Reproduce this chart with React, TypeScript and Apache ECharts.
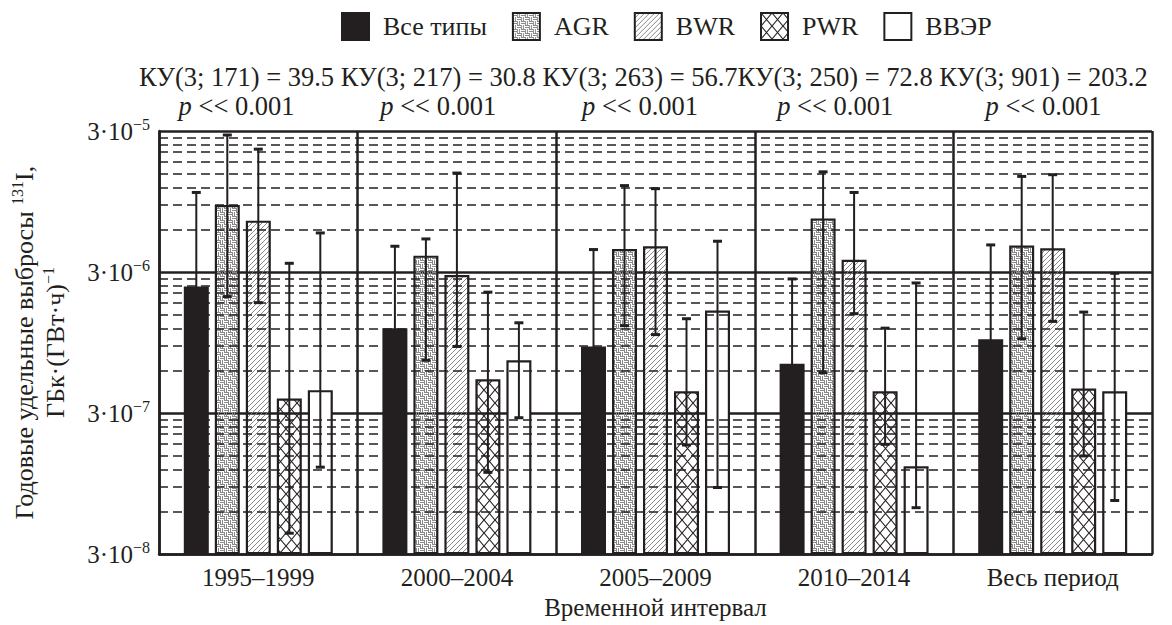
import React, { useEffect, useRef } from 'react';
import * as echarts from 'echarts';

// ---------- data ----------
const categories = ['1995–1999', '2000–2004', '2005–2009', '2010–2014', 'Весь период'];
const seriesNames = ['Все типы', 'AGR', 'BWR', 'PWR', 'ВВЭР'];

// bar values, GBq/(GW·h)
const allTypes = [2.37e-6, 1.2e-6, 8.9e-7, 6.7e-7, 1.0e-6];
const agr = [8.95e-6, 3.92e-6, 4.37e-6, 7.2e-6, 4.62e-6];
const bwr = [6.94e-6, 2.86e-6, 4.57e-6, 3.66e-6, 4.42e-6];
const pwr = [3.8e-7, 5.21e-7, 4.28e-7, 4.28e-7, 4.48e-7];
const vver = [4.36e-7, 7.1e-7, 1.6e-6, 1.26e-7, 4.28e-7];

// error bar lower / upper ends
const allTypesLo = [5.1e-7, 3.2e-7, 1.8e-7, 1.7e-7, 2.1e-7];
const allTypesHi = [1.1e-5, 4.57e-6, 4.33e-6, 2.68e-6, 4.67e-6];
const agrLo = [2.01e-6, 7.1e-7, 1.25e-6, 5.8e-7, 1.01e-6];
const agrHi = [2.81e-5, 5.15e-6, 1.23e-5, 1.54e-5, 1.43e-5];
const bwrLo = [1.82e-6, 8.9e-7, 1.08e-6, 1.52e-6, 1.34e-6];
const bwrHi = [2.23e-5, 1.51e-5, 1.17e-5, 1.1e-5, 1.47e-5];
const pwrLo = [4.22e-8, 1.14e-7, 1.78e-7, 1.8e-7, 1.49e-7];
const pwrHi = [3.46e-6, 2.16e-6, 1.4e-6, 1.2e-6, 1.56e-6];
const vverLo = [1.24e-7, 2.78e-7, 8.9e-8, 6.4e-8, 7.2e-8];
const vverHi = [5.68e-6, 1.31e-6, 4.96e-6, 2.51e-6, 2.94e-6];

// Kruskal–Wallis statistics per interval
const kwDf = [171, 217, 263, 250, 901];
const kwH = ['39.5', '30.8', '56.7', '72.8', '203.2'];
const pValueText = '<< 0.001';

// axis: labelled ticks (3·10^n) and minor multipliers
const axisBase = 3e-8;
const tickExponents = [-8, -7, -6, -5];
const minorMultipliers = [2, 3, 4, 5, 6, 7, 8, 9];

const FONT = 'Liberation Serif';
const INK = '#231f20';

const toAxis = (v: number) => Math.log10(v / axisBase);

function makePattern(kind: string): HTMLCanvasElement {
  const c = document.createElement('canvas');
  const ctx = c.getContext('2d')!;
  if (kind === 'agr') {
    c.width = 8; c.height = 8;
    ctx.fillStyle = '#8a8a8a';
    ctx.fillRect(0, 0, 4, 1); ctx.fillRect(0, 2, 4, 1);
    ctx.fillRect(4, 4, 4, 1); ctx.fillRect(4, 6, 4, 1);
    ctx.fillRect(4, 0, 1, 4); ctx.fillRect(6, 0, 1, 4);
    ctx.fillRect(0, 4, 1, 4); ctx.fillRect(2, 4, 1, 4);
  } else if (kind === 'bwr') {
    c.width = 5; c.height = 5;
    ctx.strokeStyle = '#7a7a7a';
    ctx.lineWidth = 0.9;
    ctx.beginPath();
    ctx.moveTo(-1, 6); ctx.lineTo(6, -1);
    ctx.moveTo(-1, 1); ctx.lineTo(1, -1);
    ctx.moveTo(4, 6); ctx.lineTo(6, 4);
    ctx.stroke();
  } else {
    c.width = 11; c.height = 13;
    ctx.strokeStyle = INK;
    ctx.lineWidth = 1.1;
    ctx.beginPath();
    ctx.moveTo(0, 0); ctx.lineTo(11, 13);
    ctx.moveTo(11, 0); ctx.lineTo(0, 13);
    ctx.stroke();
  }
  return c;
}

export default function App() {
  const ref = useRef<HTMLDivElement>(null);

  useEffect(() => {
    if (!ref.current) return;
    const chart = echarts.init(ref.current, null, { renderer: 'svg' });

    const values = [allTypes, agr, bwr, pwr, vver];
    const lows = [allTypesLo, agrLo, bwrLo, pwrLo, vverLo];
    const highs = [allTypesHi, agrHi, bwrHi, pwrHi, vverHi];

    const fills: any[] = [
      INK,
      { image: makePattern('agr'), repeat: 'repeat' },
      { image: makePattern('bwr'), repeat: 'repeat' },
      { image: makePattern('pwr'), repeat: 'repeat' },
      '#ffffff',
    ];

    const barSeries = seriesNames.map((name, i) => ({
      name,
      type: 'bar',
      data: values[i].map(toAxis),
      barWidth: 25,
      barGap: '24%',
      z: 3,
      itemStyle: { color: fills[i], borderColor: INK, borderWidth: 2.2 },
    }));

    const errData: number[][] = [];
    seriesNames.forEach((_, k) => {
      categories.forEach((__, c) => {
        errData.push([c, k, toAxis(lows[k][c]), toAxis(highs[k][c])]);
      });
    });

    const minorLines: any[] = [];
    for (let n = 0; n < tickExponents.length - 1; n++) {
      minorMultipliers.forEach((m) => minorLines.push({ yAxis: n + Math.log10(m) }));
    }

    // statistics row: one typeset line of labels, p-values centred under each
    const statFont = 26.5;
    const mctx = document.createElement('canvas').getContext('2d')!;
    mctx.font = `${statFont}px "${FONT}"`;
    const statLabels = kwDf.map((df, i) => `КУ(3; ${df}) = ${kwH[i]}`);
    const separators = [' ', ' ', '', ' '];
    const spaceW = mctx.measureText(' ').width;
    let cursor = 139;
    const statGraphics: any[] = [];
    statLabels.forEach((lab, i) => {
      const w = mctx.measureText(lab).width;
      const cx = cursor + w / 2;
      statGraphics.push({
        type: 'text',
        x: cursor,
        y: 77,
        silent: true,
        style: {
          text: lab, fill: INK, fontSize: statFont, fontFamily: FONT,
          textAlign: 'left', textVerticalAlign: 'middle',
        },
      });
      statGraphics.push({
        type: 'text',
        x: cx,
        y: 106,
        silent: true,
        style: {
          text: `{i|p} ${pValueText}`, fill: INK, fontSize: statFont, fontFamily: FONT,
          textAlign: 'center', textVerticalAlign: 'middle',
          rich: { i: { fontStyle: 'italic', fontSize: statFont, fontFamily: FONT, fill: INK } },
        },
      });
      cursor += w + (i < separators.length && separators[i] ? spaceW : 0);
    });

    const base = { fontSize: 25, fontFamily: FONT, color: INK };
    const big = { fontSize: 26, fontFamily: FONT, color: INK };
    const supStyle = { fontSize: 16, fontFamily: FONT, color: INK, verticalAlign: 'top', lineHeight: 16 };

    const option: any = {
      animation: false,
      textStyle: { fontFamily: FONT, color: INK },
      graphic: statGraphics,
      legend: {
        data: seriesNames,
        top: 7,
        left: 336,
        itemWidth: 27,
        itemHeight: 27,
        itemGap: 25,
        icon: 'rect',
        textStyle: { ...big, padding: [0, 0, 0, 9] },
      },
      grid: { left: 159, right: 20, top: 131, bottom: 69 },
      xAxis: {
        type: 'category',
        data: categories,
        position: 'bottom',
        axisLine: { lineStyle: { color: INK, width: 2.5 } },
        axisTick: { show: false },
        splitLine: { show: true, lineStyle: { color: INK, width: 2.5 } },
        axisLabel: { ...base, margin: 11, interval: 0 },
        name: 'Временной интервал',
        nameLocation: 'middle',
        nameGap: 36,
        nameTextStyle: base,
      },
      yAxis: {
        type: 'value',
        min: 0,
        max: tickExponents.length - 1,
        interval: 1,
        axisLine: { show: true, lineStyle: { color: INK, width: 2.5 } },
        axisTick: { show: false },
        splitLine: { show: true, lineStyle: { color: INK, width: 2.5 } },
        axisLabel: {
          ...base,
          margin: 9,
          formatter: (v: number) => `{b|3·10}{s|−${-tickExponents[Math.round(v)]}}`,
          rich: {
            b: { ...base, lineHeight: 30 },
            s: supStyle,
          },
        },
        name: '{a|Годовые удельные выбросы }{s|131}{a|I,}\n{a|ГБк·(ГВт·ч)}{s|−1}',
        nameLocation: 'middle',
        nameRotate: 90,
        nameGap: 88,
        nameTextStyle: {
          ...big,
          rich: {
            a: { ...big, lineHeight: 31 },
            s: supStyle,
          },
        },
      },
      series: [
        {
          name: 'minor-grid',
          type: 'line',
          data: [],
          z: 1,
          silent: true,
          markLine: {
            silent: true,
            symbol: ['none', 'none'],
            label: { show: false },
            lineStyle: { color: INK, width: 1.7, type: [9, 5] },
            data: minorLines,
          },
        },
        ...barSeries,
        {
          name: 'error',
          type: 'custom',
          z: 4,
          data: errData,
          encode: { x: 0, y: [2, 3] },
          renderItem: (_p: any, api: any) => {
            const c = api.value(0);
            const k = api.value(1);
            const pLo = api.coord([c, api.value(2)]);
            const pHi = api.coord([c, api.value(3)]);
            const x = pLo[0] + (k - 2) * 31;
            const cap = 4.5;
            const st = { stroke: INK, lineWidth: 2 };
            const capSt = { stroke: INK, lineWidth: 3 };
            return {
              type: 'group',
              children: [
                { type: 'line', shape: { x1: x, y1: pLo[1], x2: x, y2: pHi[1] }, style: st },
                { type: 'line', shape: { x1: x - cap, y1: pHi[1], x2: x + cap, y2: pHi[1] }, style: capSt },
                { type: 'line', shape: { x1: x - cap, y1: pLo[1], x2: x + cap, y2: pLo[1] }, style: capSt },
              ],
            };
          },
        },
      ],
    };

    chart.setOption(option);
    return () => chart.dispose();
  }, []);

  return (
    <div
      ref={ref}
      style={{ position: 'absolute', left: 0, top: 0, width: 1172, height: 625, background: '#fff' }}
    />
  );
}
